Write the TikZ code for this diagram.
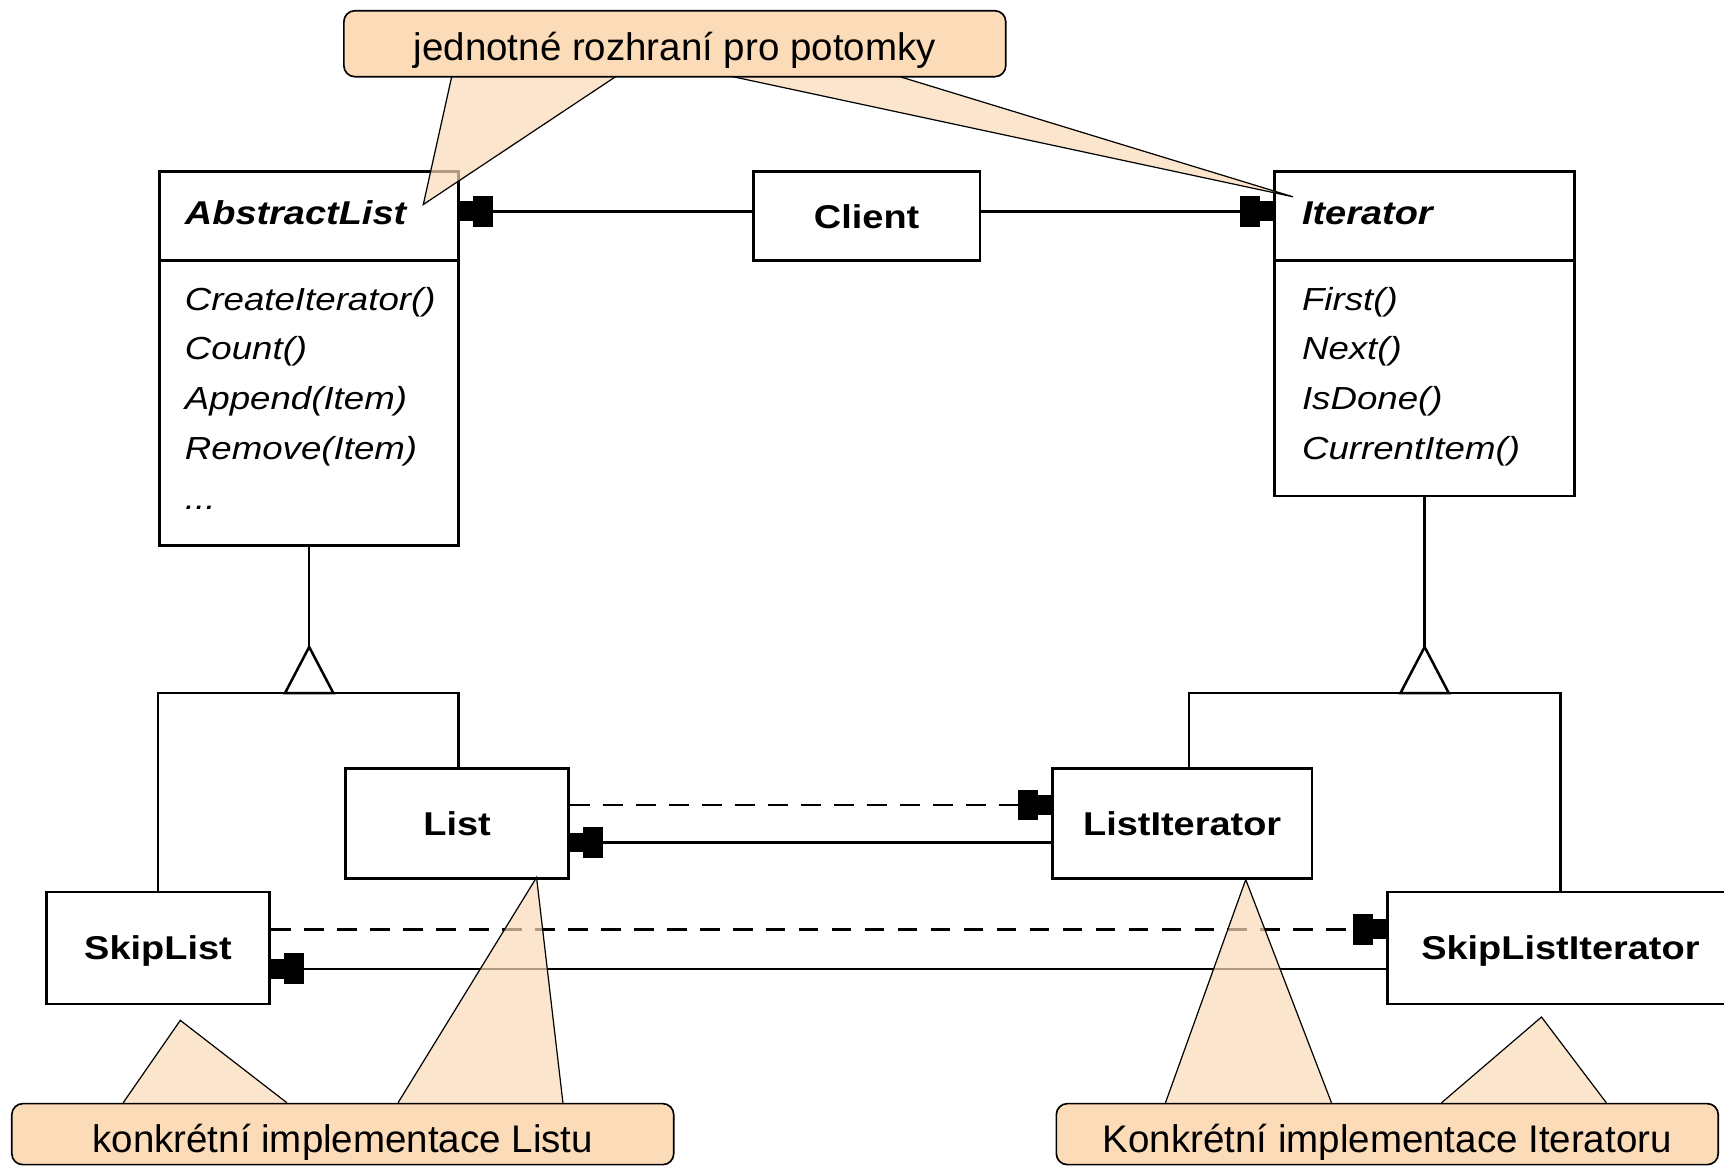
\documentclass[tikz,border=0pt]{standalone}
\usepackage{fontspec}
\setmainfont{Liberation Sans}
\newfontfamily\clsfont[FakeStretch=1.15]{Liberation Sans}
\usetikzlibrary{arrows.meta,calc}
\definecolor{callfill}{RGB}{252,219,184}
\begin{document}
\begin{tikzpicture}[x=1pt,y=-1pt,
  cls/.style={draw, line width=2.4pt, inner sep=0pt, anchor=north west, text depth=0pt,
    font=\clsfont\fontsize{30}{36}\selectfont\bfseries},
  ttl/.style={font=\clsfont\fontsize{30}{36}\selectfont\bfseries\itshape, inner sep=0pt, anchor=base west},
  mth/.style={font=\clsfont\fontsize{29}{35}\selectfont\itshape, inner sep=0pt, anchor=base west},
  sep/.style={line width=2.4pt},
  conn/.style={line width=2.3pt},
  arr/.style={conn, -{Rectangle[length=18pt,width=28pt]Rectangle[length=12pt,width=18pt]}},
  dep/.style={arr, dash pattern=on 18pt off 12pt},
  callbox/.style={draw, line width=1.5pt, fill=callfill, rounded corners=10pt, inner sep=0pt,
    anchor=north west, text depth=0pt, font=\fontsize{35}{42}\selectfont},
  tri/.style={fill=callfill, fill opacity=0.7},
  triedge/.style={line width=1.1pt}
]
\useasboundingbox (0,0) rectangle (1568,1060);
\fill[white] (0,0) rectangle (1568,1060);
\begin{scope}
\clip (0,0) rectangle (1568,1060);

% ---------- classes ----------
\node[cls, minimum width=272pt, minimum height=340pt] (abs) at (144,155) {};
\draw[sep] ($(abs.north west)+(0,82)$) -- ($(abs.north east)+(0,82)$);
\node[ttl] (absT) at (168,204) {AbstractList};
\node[mth] (absM1) at (168,282) {CreateIterator()};
\node[mth] (absM2) at (168,327) {Count()};
\node[mth] (absM3) at (168,372) {Append(Item)};
\node[mth] (absM4) at (168,418) {Remove(Item)};
\node[mth] (absM5) at (168,463) {...};

\node[cls, minimum width=206pt, minimum height=81pt] (client) at (684,155) {Client};

\node[cls, minimum width=273pt, minimum height=295pt] (iter) at (1158,155) {};
\draw[sep] ($(iter.north west)+(0,82)$) -- ($(iter.north east)+(0,82)$);
\node[ttl] (iterT) at (1184,204) {Iterator};
\node[mth] (iterM1) at (1184,282) {First()};
\node[mth] (iterM2) at (1184,327) {Next()};
\node[mth] (iterM3) at (1184,372) {IsDone()};
\node[mth] (iterM4) at (1184,418) {CurrentItem()};

\node[cls, minimum width=203pt, minimum height=100pt] (list) at (313,698) {List};
\node[cls, minimum width=236pt, minimum height=100pt] (litr) at (956,698) {ListIterator};
\node[cls, minimum width=203pt, minimum height=102pt] (skip) at (41,810) {SkipList};
\node[cls, minimum width=314pt, minimum height=102pt] (sitr) at (1261,810) {SkipListIterator};

% ---------- associations ----------
\draw[arr] ($(client.west)+(0,-4.5)$) -- ($(client.west -| abs.east)+(0,-4.5)$);
\draw[arr] ($(client.east)+(0,-4.5)$) -- ($(client.east -| iter.west)+(0,-4.5)$);
\draw[dep] ($(list.east)+(0,-17)$) -- ($(list.east -| litr.west)+(0,-17)$);
\draw[arr] ($(litr.west)+(0,17)$) -- ($(litr.west -| list.east)+(0,17)$);
\draw[dep] ($(skip.east)+(0,-17)$) -- ($(skip.east -| sitr.west)+(0,-17)$);
\draw[arr] ($(sitr.west)+(0,19)$) -- ($(sitr.west -| skip.east)+(0,19)$);

% ---------- inheritance ----------
\coordinate (absApex) at ($(abs.south)+(0,91)$);
\coordinate (absBase) at ($(abs.south)+(0,133)$);
\draw[conn] (abs.south) -- (absApex);
\draw[conn] (skip.north) |- (absBase) -| ($(list.north)+(1.5,0)$);
\draw[conn, fill=white, line join=miter] (absApex) -- ($(absBase)+(-22,0)$) -- ($(absBase)+(22,0)$) -- cycle;

\coordinate (itApex) at ($(iter.south)+(0,136)$);
\coordinate (itBase) at ($(iter.south)+(0,178)$);
\draw[conn] (iter.south) -- (itApex);
\draw[conn] ($(litr.north)+(6,0)$) |- (itBase) -| (sitr.north);
\draw[conn, fill=white, line join=miter] (itApex) -- ($(itBase)+(-22,0)$) -- ($(itBase)+(22,0)$) -- cycle;

% ---------- callout pointers ----------
\coordinate (t1) at (385,186);
\coordinate (t2) at (1176,179);
\coordinate (t3) at (164,928);
\coordinate (t4) at (488,798);
\coordinate (t5) at (1133,800);
\coordinate (t6) at (1402,925);

\fill[tri] (411,69) -- (t1) -- (561,69) -- cycle;
\draw[triedge] (411,69) -- (t1) -- (561,69);
\fill[tri] (663,69) -- (t2) -- (816,69) -- cycle;
\draw[triedge] (663,69) -- (t2) -- (816,69);
\fill[tri] (112,1003) -- (t3) -- (261,1003) -- cycle;
\draw[triedge] (112,1003) -- (t3) -- (261,1003);
\fill[tri] (362,1003) -- (t4) -- (512,1003) -- cycle;
\draw[triedge] (362,1003) -- (t4) -- (512,1003);
\fill[tri] (1060,1003) -- (t5) -- (1211,1003) -- cycle;
\draw[triedge] (1060,1003) -- (t5) -- (1211,1003);
\fill[tri] (1311,1003) -- (t6) -- (1461,1003) -- cycle;
\draw[triedge] (1311,1003) -- (t6) -- (1461,1003);

% ---------- callout boxes ----------
\node[callbox, minimum width=602pt, minimum height=60pt, text height=30pt] (call1) at (312,9) {jednotné rozhraní pro potomky};
\node[callbox, minimum width=602pt, minimum height=55.5pt, text height=34pt] (call2) at (10,1003) {konkrétní implementace Listu};
\node[callbox, minimum width=602pt, minimum height=55.5pt, text height=34pt] (call3) at (960,1003) {Konkrétní implementace Iteratoru};
\end{scope}
\end{tikzpicture}
\end{document}
